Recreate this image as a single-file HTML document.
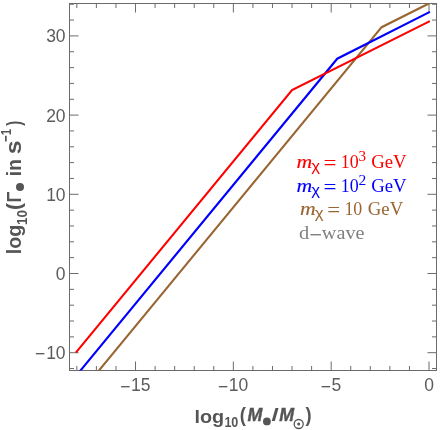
<!DOCTYPE html>
<html><head><meta charset="utf-8"><style>
html,body{margin:0;padding:0;background:#fff}
svg{display:block;will-change:transform}
</style></head><body>
<svg width="440" height="430" viewBox="0 0 440 430">
<defs><clipPath id="c"><rect x="69.5" y="3.5" width="367.00" height="367.00"/></clipPath></defs>
<rect width="440" height="430" fill="#fff"/>
<rect x="69.5" y="3.5" width="367.00" height="367.00" fill="none" stroke="#6b6b6b" stroke-width="1"/>
<path d="M76.83 370.5V366.0M76.83 3.5V8.0M96.39 370.5V366.0M96.39 3.5V8.0M115.96 370.5V366.0M115.96 3.5V8.0M135.52 370.5V361.5M135.52 3.5V12.5M155.09 370.5V366.0M155.09 3.5V8.0M174.65 370.5V366.0M174.65 3.5V8.0M194.22 370.5V366.0M194.22 3.5V8.0M213.78 370.5V366.0M213.78 3.5V8.0M233.35 370.5V361.5M233.35 3.5V12.5M252.91 370.5V366.0M252.91 3.5V8.0M272.48 370.5V366.0M272.48 3.5V8.0M292.04 370.5V366.0M292.04 3.5V8.0M311.61 370.5V366.0M311.61 3.5V8.0M331.18 370.5V361.5M331.18 3.5V12.5M350.74 370.5V366.0M350.74 3.5V8.0M370.31 370.5V366.0M370.31 3.5V8.0M389.87 370.5V366.0M389.87 3.5V8.0M409.44 370.5V366.0M409.44 3.5V8.0M429.00 370.5V361.5M429.00 3.5V12.5M69.5 368.54H74.0M436.5 368.54H432.0M69.5 352.70H78.5M436.5 352.70H427.5M69.5 336.86H74.0M436.5 336.86H432.0M69.5 321.02H74.0M436.5 321.02H432.0M69.5 305.18H74.0M436.5 305.18H432.0M69.5 289.34H74.0M436.5 289.34H432.0M69.5 273.50H78.5M436.5 273.50H427.5M69.5 257.66H74.0M436.5 257.66H432.0M69.5 241.82H74.0M436.5 241.82H432.0M69.5 225.98H74.0M436.5 225.98H432.0M69.5 210.14H74.0M436.5 210.14H432.0M69.5 194.30H78.5M436.5 194.30H427.5M69.5 178.46H74.0M436.5 178.46H432.0M69.5 162.62H74.0M436.5 162.62H432.0M69.5 146.78H74.0M436.5 146.78H432.0M69.5 130.94H74.0M436.5 130.94H432.0M69.5 115.10H78.5M436.5 115.10H427.5M69.5 99.26H74.0M436.5 99.26H432.0M69.5 83.42H74.0M436.5 83.42H432.0M69.5 67.58H74.0M436.5 67.58H432.0M69.5 51.74H74.0M436.5 51.74H432.0M69.5 35.90H78.5M436.5 35.90H427.5M69.5 20.06H74.0M436.5 20.06H432.0M69.5 4.22H74.0M436.5 4.22H432.0" stroke="#6b6b6b" stroke-width="1" fill="none"/>
<path d="M87.53 384.38 L381.65 27.19 L429.88 2.95" stroke="#996633" stroke-width="2.1" fill="none" stroke-linejoin="miter" clip-path="url(#c)"/>
<path d="M69.07 384.38 L337.24 58.71 L429.88 11.82" stroke="#0000ff" stroke-width="2.1" fill="none" stroke-linejoin="miter" clip-path="url(#c)"/>
<path d="M75.85 352.70 L292.04 90.15 L429.88 21.09" stroke="#ff0000" stroke-width="2.1" fill="none" stroke-linejoin="miter" clip-path="url(#c)"/>
<text transform="translate(120.18,392.50) scale(1,1.09)" text-anchor="start" style="font-family:'Liberation Sans',sans-serif;font-size:17.5px;fill:#5c5c5c">−</text>
<text transform="translate(130.90,391.30) scale(1,1.09)" text-anchor="start" style="font-family:'Liberation Sans',sans-serif;font-size:17.5px;fill:#5c5c5c">15</text>
<text transform="translate(218.01,392.50) scale(1,1.09)" text-anchor="start" style="font-family:'Liberation Sans',sans-serif;font-size:17.5px;fill:#5c5c5c">−</text>
<text transform="translate(228.73,391.30) scale(1,1.09)" text-anchor="start" style="font-family:'Liberation Sans',sans-serif;font-size:17.5px;fill:#5c5c5c">10</text>
<text transform="translate(320.70,392.50) scale(1,1.09)" text-anchor="start" style="font-family:'Liberation Sans',sans-serif;font-size:17.5px;fill:#5c5c5c">−</text>
<text transform="translate(331.42,391.30) scale(1,1.09)" text-anchor="start" style="font-family:'Liberation Sans',sans-serif;font-size:17.5px;fill:#5c5c5c">5</text>
<text transform="translate(424.13,391.30) scale(1,1.09)" text-anchor="start" style="font-family:'Liberation Sans',sans-serif;font-size:17.5px;fill:#5c5c5c">0</text>
<text transform="translate(65.60,359.20) scale(1,1.09)" text-anchor="end" style="font-family:'Liberation Sans',sans-serif;font-size:17.5px;fill:#5c5c5c">10</text>
<text transform="translate(45.14,360.40) scale(1,1.09)" text-anchor="end" style="font-family:'Liberation Sans',sans-serif;font-size:17.5px;fill:#5c5c5c">−</text>
<text transform="translate(65.60,280.00) scale(1,1.09)" text-anchor="end" style="font-family:'Liberation Sans',sans-serif;font-size:17.5px;fill:#5c5c5c">0</text>
<text transform="translate(65.60,200.80) scale(1,1.09)" text-anchor="end" style="font-family:'Liberation Sans',sans-serif;font-size:17.5px;fill:#5c5c5c">10</text>
<text transform="translate(65.60,121.60) scale(1,1.09)" text-anchor="end" style="font-family:'Liberation Sans',sans-serif;font-size:17.5px;fill:#5c5c5c">20</text>
<text transform="translate(65.60,42.40) scale(1,1.09)" text-anchor="end" style="font-family:'Liberation Sans',sans-serif;font-size:17.5px;fill:#5c5c5c">30</text>
<text transform="translate(194.42,422.66) scale(0.989,0.963)" style="font-family:'Liberation Sans';font-weight:bold;font-style:normal;font-size:20px;fill:#555">log</text>
<text transform="translate(224.39,426.65) scale(0.627,0.746)" style="font-family:'Liberation Sans';font-weight:bold;font-style:normal;font-size:20px;fill:#555">10</text>
<text transform="translate(239.77,422.39) scale(0.929,1.027)" style="font-family:'Liberation Sans';font-weight:bold;font-style:normal;font-size:20px;fill:#555">(</text>
<text transform="translate(247.44,421.10) scale(0.892,0.913)" style="font-family:'Liberation Sans';font-weight:bold;font-style:italic;font-size:20px;fill:#555;stroke:#555;stroke-width:0.45px">M</text>
<text transform="translate(271.54,421.03) scale(1.308,0.933)" style="font-family:'Liberation Sans';font-weight:bold;font-style:normal;font-size:20px;fill:#555">/</text>
<text transform="translate(279.34,421.10) scale(0.892,0.913)" style="font-family:'Liberation Sans';font-weight:bold;font-style:italic;font-size:20px;fill:#555;stroke:#555;stroke-width:0.45px">M</text>
<text transform="translate(305.51,422.39) scale(0.911,1.027)" style="font-family:'Liberation Sans';font-weight:bold;font-style:normal;font-size:20px;fill:#555">)</text>
<text transform="translate(20.76,254.18) rotate(-90) scale(0.985,1.032)" style="font-family:'Liberation Sans';font-weight:bold;font-style:normal;font-size:20px;fill:#555">log</text>
<text transform="translate(26.95,225.07) rotate(-90) scale(0.672,0.725)" style="font-family:'Liberation Sans';font-weight:bold;font-style:normal;font-size:20px;fill:#555">10</text>
<text transform="translate(20.78,209.95) rotate(-90) scale(1.054,1.005)" style="font-family:'Liberation Sans';font-weight:bold;font-style:normal;font-size:20px;fill:#555">(</text>
<text transform="translate(20.80,202.47) rotate(-90) scale(0.904,0.993)" style="font-family:'Liberation Sans';font-weight:bold;font-style:normal;font-size:20px;fill:#555">Γ</text>
<text transform="translate(20.70,176.14) rotate(-90) scale(0.954,0.979)" style="font-family:'Liberation Sans';font-weight:bold;font-style:normal;font-size:20px;fill:#555">in</text>
<text transform="translate(20.69,154.27) rotate(-90) scale(1.250,1.073)" style="font-family:'Liberation Sans';font-weight:bold;font-style:normal;font-size:20px;fill:#555">s</text>
<text transform="translate(11.30,141.85) rotate(-90) scale(0.565,0.768)" style="font-family:'Liberation Sans';font-weight:bold;font-style:normal;font-size:20px;fill:#555">−1</text>
<text transform="translate(20.78,125.67) rotate(-90) scale(0.732,1.005)" style="font-family:'Liberation Sans';font-weight:bold;font-style:normal;font-size:20px;fill:#555">)</text>
<text transform="translate(296.44,168.10) scale(1.085,0.989)" style="font-family:'Liberation Serif';font-weight:normal;font-style:italic;font-size:20px;fill:#ff0000;stroke:#ff0000;stroke-width:0.15px">m</text>
<text transform="translate(311.23,170.68) scale(0.840,0.720)" style="font-family:'Liberation Sans';font-weight:normal;font-style:normal;font-size:20px;fill:#ff0000">χ</text>
<text transform="translate(323.55,170.30) scale(1.151,1.000)" style="font-family:'Liberation Serif';font-weight:normal;font-style:normal;font-size:20px;fill:#ff0000">=</text>
<text transform="translate(340.79,168.02) scale(0.897,0.904)" style="font-family:'Liberation Serif';font-weight:normal;font-style:normal;font-size:20px;fill:#ff0000">10</text>
<text transform="translate(358.54,160.56) scale(0.756,0.679)" style="font-family:'Liberation Serif';font-weight:normal;font-style:normal;font-size:20px;fill:#ff0000">3</text>
<text transform="translate(371.25,168.02) scale(0.937,0.933)" style="font-family:'Liberation Serif';font-weight:normal;font-style:normal;font-size:20px;fill:#ff0000">GeV</text>
<text transform="translate(296.44,192.10) scale(1.085,0.989)" style="font-family:'Liberation Serif';font-weight:normal;font-style:italic;font-size:20px;fill:#0000ff;stroke:#0000ff;stroke-width:0.15px">m</text>
<text transform="translate(311.23,194.68) scale(0.840,0.720)" style="font-family:'Liberation Sans';font-weight:normal;font-style:normal;font-size:20px;fill:#0000ff">χ</text>
<text transform="translate(323.55,194.30) scale(1.151,1.000)" style="font-family:'Liberation Serif';font-weight:normal;font-style:normal;font-size:20px;fill:#0000ff">=</text>
<text transform="translate(340.79,192.02) scale(0.897,0.904)" style="font-family:'Liberation Serif';font-weight:normal;font-style:normal;font-size:20px;fill:#0000ff">10</text>
<text transform="translate(358.60,184.70) scale(0.775,0.689)" style="font-family:'Liberation Serif';font-weight:normal;font-style:normal;font-size:20px;fill:#0000ff">2</text>
<text transform="translate(371.25,192.02) scale(0.937,0.933)" style="font-family:'Liberation Serif';font-weight:normal;font-style:normal;font-size:20px;fill:#0000ff">GeV</text>
<text transform="translate(300.04,215.10) scale(1.085,0.989)" style="font-family:'Liberation Serif';font-weight:normal;font-style:italic;font-size:20px;fill:#996633;stroke:#996633;stroke-width:0.15px">m</text>
<text transform="translate(314.83,217.68) scale(0.840,0.720)" style="font-family:'Liberation Sans';font-weight:normal;font-style:normal;font-size:20px;fill:#996633">χ</text>
<text transform="translate(327.15,217.30) scale(1.151,1.000)" style="font-family:'Liberation Serif';font-weight:normal;font-style:normal;font-size:20px;fill:#996633">=</text>
<text transform="translate(344.39,215.02) scale(0.897,0.904)" style="font-family:'Liberation Serif';font-weight:normal;font-style:normal;font-size:20px;fill:#996633">10</text>
<text transform="translate(367.85,215.02) scale(0.937,0.933)" style="font-family:'Liberation Serif';font-weight:normal;font-style:normal;font-size:20px;fill:#996633">GeV</text>
<text transform="translate(298.98,239.01) scale(1.022,0.929)" style="font-family:'Liberation Serif';font-weight:normal;font-style:normal;font-size:20px;fill:#808080">d</text>
<text transform="translate(309.47,243.54) scale(1.129,1.400)" style="font-family:'Liberation Serif';font-weight:normal;font-style:normal;font-size:20px;fill:#808080">−</text>
<text transform="translate(321.80,239.01) scale(1.012,0.938)" style="font-family:'Liberation Serif';font-weight:normal;font-style:normal;font-size:20px;fill:#808080">wave</text>
<circle cx="266.9" cy="421.4" r="3.9" fill="#555"/>
<circle cx="298.7" cy="424.0" r="4.5" fill="none" stroke="#555" stroke-width="1.3"/><circle cx="298.7" cy="424.0" r="1.5" fill="#555"/>
<circle cx="20.0" cy="187.0" r="4.0" fill="#555"/>
</svg>
</body></html>
